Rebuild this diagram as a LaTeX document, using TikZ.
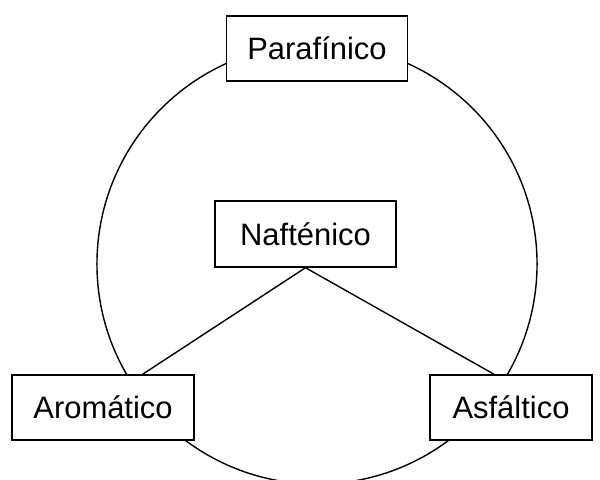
\documentclass[tikz,border=0pt]{standalone}
\usepackage{fontspec}
\setmainfont{Liberation Sans}
\begin{document}
\begin{tikzpicture}[x=0.025cm,y=-0.025cm,
  line width=1pt,
  typebox/.style={draw,fill=white,font=\fontsize{22}{26}\selectfont,inner sep=0pt,
    minimum height=1.625cm}]
\useasboundingbox (0,0) rectangle (600,480);
% surrounding circle
\draw (317,264) circle[radius=5.5cm];
% the four oil types
\node[typebox,minimum width=4.525cm] (par) at (317,48.5) {Parafínico};
\node[typebox,minimum width=4.525cm,minimum height=1.65cm] (naf) at (305.5,234) {Nafténico};
\node[typebox,minimum width=4.55cm] (aro) at (103,407.5) {Aromático};
\node[typebox,minimum width=4.05cm] (asf) at (511,407.5) {Asfáltico};
% links from the centre box
\draw (naf.south) -- (aro.40.5);
\draw (naf.south) -- (asf.117.6);
\end{tikzpicture}
\end{document}
